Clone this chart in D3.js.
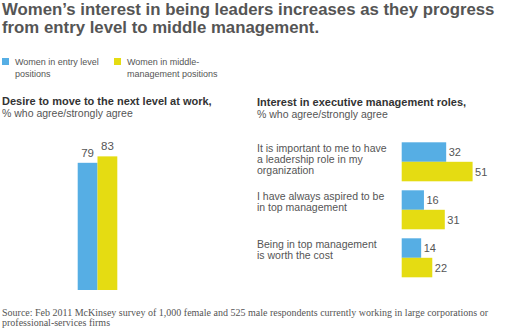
<!DOCTYPE html>
<html>
<head>
<meta charset="utf-8">
<script src="https://cdn.jsdelivr.net/npm/d3@7"></script>
<style>
  body { margin: 0; background: #fff; }
  svg { display: block; font-family: "Liberation Sans", Arial, sans-serif; }
</style>
</head>
<body>
<svg id="chart" width="510" height="332"></svg>
<script>
// data
const titleLines = ["Women\u2019s interest in being leaders increases as they progress", "from entry level to middle management."];
const seriesNames = ["Women in entry level positions", "Women in middle-management positions"];
const legendLines = [["Women in entry level", "positions"], ["Women in middle-", "management positions"]];
const desireValues = [79, 83];
const roleCategories = ["leadership", "aspired", "worth"];
const roleLabels = [
  ["It is important to me to have", "a leadership role in my", "organization"],
  ["I have always aspired to be", "in top management"],
  ["Being in top management", "is worth the cost"]
];
const entryValues = [32, 16, 14];
const middleValues = [51, 31, 22];
const sourceLines = [
  "Source: Feb 2011 McKinsey survey of 1,000 female and 525 male respondents currently working in large corporations or",
  "professional-services firms"
];

const colors = d3.scaleOrdinal().domain(seriesNames).range(["#56aee4", "#e5dc12"]);

const svg = d3.select("#chart");

// title
svg.append("g").selectAll("text").data(titleLines).enter().append("text")
  .attr("x", 2).attr("y", (d, i) => 15 + i * 17.5)
  .style("font-size", "16.8px").style("font-weight", "bold").style("fill", "#555")
  .text(d => d);

// legend
const legend = svg.append("g").selectAll("g").data(seriesNames).enter().append("g")
  .attr("transform", (d, i) => "translate(" + (2 + i * 112) + ",58)");
legend.append("rect").attr("width", 7).attr("height", 7).style("fill", d => colors(d));
legend.each(function(d, i) {
  d3.select(this).selectAll("text").data(legendLines[i]).enter().append("text")
    .attr("x", 13).attr("y", (t, j) => 7 + j * 11.5)
    .style("font-size", "9px").style("fill", "#555")
    .text(t => t);
});

// left panel
const left = svg.append("g");
left.append("text").attr("x", 2).attr("y", 105)
  .style("font-size", "11px").style("font-weight", "bold").style("fill", "#333")
  .text("Desire to move to the next level at work,");
left.append("text").attr("x", 2).attr("y", 117)
  .style("font-size", "10.5px").style("fill", "#555")
  .text("% who agree/strongly agree");

const xLeft = d3.scaleBand().domain(seriesNames).range([77.7, 117.3]);
const yLeft = d3.scaleLinear().domain([0, 100]).range([290, 129]);

left.selectAll("rect").data(desireValues).enter().append("rect")
  .attr("x", (d, i) => xLeft(seriesNames[i]))
  .attr("y", d => yLeft(d))
  .attr("width", xLeft.bandwidth())
  .attr("height", d => yLeft(0) - yLeft(d))
  .style("fill", (d, i) => colors(seriesNames[i]));

left.selectAll("text.val").data(desireValues).enter().append("text")
  .attr("class", "val")
  .attr("x", (d, i) => xLeft(seriesNames[i]) + xLeft.bandwidth() / 2)
  .attr("y", d => yLeft(d) - 6)
  .attr("text-anchor", "middle")
  .style("font-size", "11.5px").style("fill", "#555")
  .text(d => d);

// right panel
const right = svg.append("g");
right.append("text").attr("x", 257).attr("y", 106)
  .style("font-size", "11px").style("font-weight", "bold").style("fill", "#333")
  .text("Interest in executive management roles,");
right.append("text").attr("x", 257).attr("y", 118)
  .style("font-size", "10.5px").style("fill", "#555")
  .text("% who agree/strongly agree");

const yGroup = d3.scaleBand().domain(roleCategories).range([142.3, 277.3]).paddingInner(0.1875);
const ySeries = d3.scaleBand().domain(seriesNames).range([0, yGroup.bandwidth()]);
const xRight = d3.scaleLinear().domain([0, 100]).range([401.7, 540.7]);

const groups = right.selectAll("g.grp").data(roleCategories).enter().append("g")
  .attr("class", "grp")
  .attr("transform", d => "translate(0," + yGroup(d) + ")");

groups.each(function(cat, i) {
  const g = d3.select(this);
  const vals = [entryValues[i], middleValues[i]];

  g.selectAll("text.lbl").data(roleLabels[i]).enter().append("text")
    .attr("class", "lbl")
    .attr("x", 257).attr("y", (t, j) => 9.5 + j * 11)
    .style("font-size", "10.5px").style("fill", "#555")
    .text(t => t);

  g.selectAll("rect").data(vals).enter().append("rect")
    .attr("x", xRight(0))
    .attr("y", (d, j) => ySeries(seriesNames[j]))
    .attr("width", d => xRight(d) - xRight(0))
    .attr("height", ySeries.bandwidth())
    .style("fill", (d, j) => colors(seriesNames[j]));

  g.selectAll("text.val").data(vals).enter().append("text")
    .attr("class", "val")
    .attr("x", d => xRight(d) + 2.5)
    .attr("y", (d, j) => ySeries(seriesNames[j]) + ySeries.bandwidth() / 2 + 4)
    .style("font-size", "11px").style("fill", "#555")
    .text(d => d);
});

// source
svg.append("g").selectAll("text").data(sourceLines).enter().append("text")
  .attr("x", 2).attr("y", (d, i) => 315.5 + i * 10)
  .style("font-family", "'Liberation Serif', 'Times New Roman', serif")
  .style("font-size", "10px").style("fill", "#555")
  .text(d => d);
</script>
</body>
</html>
